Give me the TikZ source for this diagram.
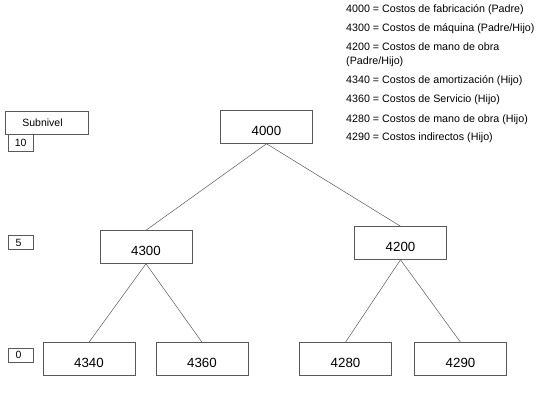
\documentclass[tikz,border=0pt]{standalone}
\usepackage{fontspec}
\setmainfont{Liberation Sans}
\usetikzlibrary{positioning}

\begin{document}
\begin{tikzpicture}[
  x=1pt, y=-1pt,
  node distance=0pt,
  line/.style={draw=black!65, line width=0.5pt},
  acct/.style={line, minimum width=92pt, minimum height=33pt, inner sep=0pt,
    text height=17pt, text depth=0pt, font=\fontsize{13.3}{15}\selectfont},
  lvl/.style={line, minimum width=25pt, minimum height=14pt, inner sep=0pt,
    font=\fontsize{10.5}{12}\selectfont},
  note/.style={anchor=west, inner sep=0pt, align=left, font=\fontsize{10.7}{14}\selectfont},
]
\useasboundingbox (0,0) rectangle (543,400);
% account tree
\node[acct] (k4000) at (266.5,127) {4000};
\node[acct] (k4300) at (146,247)   {4300};
\node[acct] (k4200) at (400.5,243) {4200};
\node[acct] (k4340) at (89,359)    {4340};
\node[acct] (k4360) at (202,359)   {4360};
\node[acct] (k4280) at (345.5,359) {4280};
\node[acct] (k4290) at (460.5,359) {4290};
\foreach \a/\b in {k4000/k4300,k4000/k4200,k4300/k4340,k4300/k4360,k4200/k4280,k4200/k4290}
  \draw[line] (\a.south) -- (\b.north);
% sublevel column
\node[line, minimum width=83pt, minimum height=23pt, inner sep=0pt,
  font=\fontsize{10.5}{12}\selectfont] (sub) at (46.5,122.5) {\hspace*{-8pt}Subnivel};
\node[lvl, minimum height=17pt, anchor=north west] (s10) at (8,134) {10};
\node[lvl] (s5) at (20.5,242.5) {\hspace*{-4pt}5};
\node[lvl] (s0) at (20.5,355) {\hspace*{-4pt}0};
% legend
\node[note] (l4000) at (346,10)  {4000 = Costos de fabricación (Padre)};
\node[note] (l4300) at (346,29)  {4300 = Costos de máquina (Padre/Hijo)};
\node[note] (l4200) at (346,55)  {4200 = Costos de mano de obra\\(Padre/Hijo)};
\node[note] (l4340) at (346,81)  {4340 = Costos de amortización (Hijo)};
\node[note] (l4360) at (346,100) {4360 = Costos de Servicio (Hijo)};
\node[note] (l4280) at (346,120) {4280 = Costos de mano de obra (Hijo)};
\node[note] (l4290) at (346,138) {4290 = Costos indirectos (Hijo)};
\end{tikzpicture}
\end{document}
